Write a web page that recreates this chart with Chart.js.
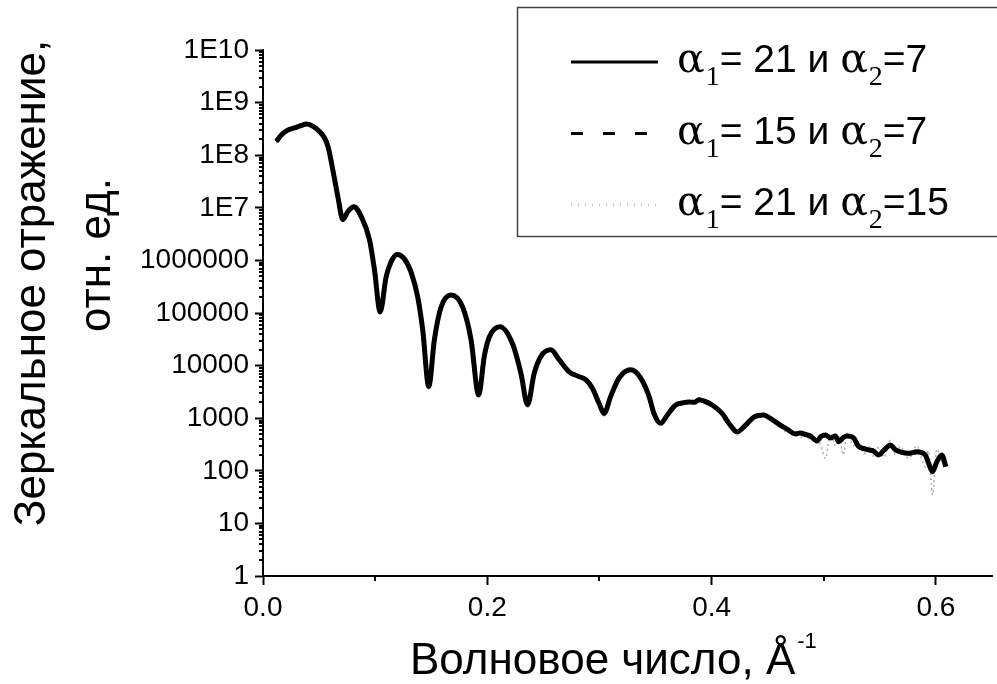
<!DOCTYPE html>
<html>
<head>
<meta charset="utf-8">
<style>
  html, body { margin: 0; padding: 0; background: #fff; }
  #wrap { width: 997px; height: 684px; }
</style>
<script src="https://cdn.jsdelivr.net/npm/chart.js@4.4.0/dist/chart.umd.min.js"></script>
</head>
<body>
<div id="wrap"><canvas id="grafico" width="997" height="684"></canvas></div>
<script>
// волновое число, 1/Å
const waveNumber = [
  0.012, 0.017, 0.022, 0.028, 0.033, 0.039, 0.045, 0.0505, 0.055, 0.058,
  0.0623, 0.0668, 0.0712, 0.0757, 0.081, 0.0876, 0.095, 0.0994, 0.1045, 0.1098,
  0.1143, 0.1196, 0.126, 0.132, 0.138, 0.1424, 0.1478, 0.1528, 0.1588, 0.1677,
  0.178, 0.1855, 0.1923, 0.1973, 0.2018, 0.2113, 0.2225, 0.230, 0.2359, 0.2418,
  0.2478, 0.2567, 0.264, 0.273, 0.281, 0.2878, 0.2937, 0.2997, 0.3041, 0.310,
  0.3175, 0.3279, 0.3368, 0.3442, 0.3486, 0.3546, 0.3605, 0.368, 0.374, 0.3798,
  0.3845, 0.3887, 0.394, 0.4005, 0.4094, 0.4154, 0.4228, 0.4303, 0.4377, 0.4466,
  0.452, 0.457, 0.462, 0.4673, 0.4748, 0.479, 0.4837, 0.488, 0.494, 0.4975,
  0.5015, 0.506, 0.5104, 0.5133, 0.5175, 0.5207, 0.5267, 0.5311, 0.536, 0.540,
  0.544, 0.5489, 0.554, 0.5593, 0.564, 0.5682, 0.5756, 0.583, 0.5905, 0.5934,
  0.597, 0.6008, 0.6053, 0.6088
];

// α1 = 21, α2 = 7
const refl21_7 = [
  1.86e8, 2.5e8, 3.0e8, 3.3e8, 3.6e8, 3.9e8, 3.5e8, 2.8e8, 2.1e8, 1.45e8,
  5.2e7, 1.6e7, 6.0e6, 8.5e6, 1.05e7, 6.8e6, 2.45e6, 6.6e5, 1.05e5, 4.9e5,
  9.5e5, 1.3e6, 1.07e6, 6.0e5, 2.0e5, 4.8e4, 4.0e3, 3.1e4, 1.3e5, 2.2e5,
  1.3e5, 3.1e4, 2.75e3, 1.5e4, 3.5e4, 5.5e4, 2.6e4, 7.1e3, 1.8e3, 7.1e3,
  1.5e4, 2.0e4, 1.3e4, 7.6e3, 6.3e3, 5.4e3, 3.7e3, 1.9e3, 1.23e3, 2.6e3,
  5.8e3, 8.3e3, 5.8e3, 2.6e3, 1.23e3, 800, 1150, 1780, 1950, 2040,
  2000, 2240, 2090, 1780, 1230, 800, 550, 740, 1050, 1150,
  1000, 850, 720, 620, 500, 525, 490, 460, 370, 450,
  480, 420, 460, 355, 430, 460, 420, 290, 265, 250,
  240, 200, 250, 310, 250, 230, 215, 230, 200, 140,
  96, 148, 200, 120
];

// α1 = 15, α2 = 7
const refl15_7 = [
  1.8e8, 2.5e8, 3.0e8, 3.3e8, 3.6e8, 3.9e8, 3.5e8, 2.8e8, 2.1e8, 1.45e8,
  5.2e7, 1.6e7, 6.0e6, 8.5e6, 1.05e7, 6.8e6, 2.45e6, 6.6e5, 1.05e5, 4.9e5,
  9.5e5, 1.3e6, 1.07e6, 6.0e5, 2.0e5, 4.8e4, 4.0e3, 3.1e4, 1.3e5, 2.2e5,
  1.3e5, 3.1e4, 2.75e3, 1.5e4, 3.5e4, 5.5e4, 2.6e4, 7.1e3, 1.8e3, 7.1e3,
  1.5e4, 2.0e4, 1.3e4, 7.6e3, 6.3e3, 5.4e3, 3.7e3, 1.9e3, 1.23e3, 2.6e3,
  5.8e3, 8.3e3, 5.8e3, 2.6e3, 1.23e3, 790, 1150, 1800, 1950, 2040,
  2000, 2240, 2100, 1780, 1230, 790, 540, 740, 1050, 1150,
  1000, 860, 720, 610, 500, 520, 490, 450, 370, 450,
  470, 420, 450, 360, 420, 460, 410, 290, 260, 250,
  235, 205, 250, 300, 250, 225, 215, 225, 200, 140,
  100, 150, 190, 120
];

// α1 = 21, α2 = 15
const refl21_15 = [
  1.7e8, 2.5e8, 3.0e8, 3.4e8, 3.6e8, 4.1e8, 3.5e8, 2.8e8, 2.1e8, 1.45e8,
  5.0e7, 1.6e7, 5.6e6, 8.5e6, 1.05e7, 6.8e6, 2.45e6, 6.6e5, 1.0e5, 4.9e5,
  9.5e5, 1.3e6, 1.07e6, 6.0e5, 2.0e5, 4.8e4, 3.6e3, 3.1e4, 1.3e5, 2.2e5,
  1.3e5, 3.1e4, 2.6e3, 1.5e4, 3.5e4, 5.6e4, 2.6e4, 7.1e3, 1.6e3, 7.1e3,
  1.5e4, 2.1e4, 1.3e4, 7.8e3, 6.6e3, 5.2e3, 3.9e3, 1.8e3, 1.1e3, 2.7e3,
  6.0e3, 9.0e3, 5.6e3, 2.7e3, 1.2e3, 760, 1200, 1900, 2100, 1900,
  2150, 2100, 2300, 1700, 1300, 760, 480, 800, 1000, 1250,
  900, 900, 650, 560, 560, 420, 560, 380, 400, 300,
  170, 520, 300, 480, 200, 520, 300, 350, 210, 300,
  190, 280, 180, 380, 200, 290, 170, 300, 120, 240,
  35, 260, 150, 170
];

const alpha1 = [21, 15, 21];
const alpha2 = [7, 7, 15];

const xMajorTicks = [0, 0.2, 0.4, 0.6];
const xMinorTicks = [0.1, 0.3, 0.5];
const yTickLabels = ["1", "10", "100", "1000", "10000", "100000", "1000000", "1E7", "1E8", "1E9", "1E10"];

const SANS = "'Liberation Sans', Arial, sans-serif";
const SERIF = "'Liberation Serif', 'Times New Roman', serif";
const GREEK = "'DejaVu Serif', 'Liberation Serif', serif";

function points(values) {
  return waveNumber.map((q, i) => ({ x: q, y: values[i] }));
}

// подписи осей, мелкие риски и легенда
const extras = {
  id: "extras",
  afterDraw(chart) {
    const { ctx, chartArea, scales } = chart;
    const x = scales.x, y = scales.y;
    ctx.save();

    // мелкие риски
    ctx.strokeStyle = "#000";
    ctx.lineWidth = 2;
    ctx.beginPath();
    xMinorTicks.forEach(v => {
      const px = Math.round(x.getPixelForValue(v));
      ctx.moveTo(px, chartArea.bottom);
      ctx.lineTo(px, chartArea.bottom + 5);
    });
    for (let d = 0; d < 10; d++) {
      for (let m = 2; m < 10; m++) {
        const py = Math.round(y.getPixelForValue(m * Math.pow(10, d)));
        ctx.moveTo(chartArea.left - 4, py);
        ctx.lineTo(chartArea.left, py);
      }
    }
    ctx.stroke();

    // подпись оси X
    ctx.fillStyle = "#000";
    ctx.textBaseline = "alphabetic";
    ctx.textAlign = "left";
    ctx.font = "44px " + SANS;
    const main = "Волновое число, Å";
    const w = ctx.measureText(main).width;
    ctx.fillText(main, 410, 674);
    ctx.font = "22px " + SANS;
    ctx.fillText("-1", 410 + w + 2, 648);

    // подпись оси Y
    ctx.font = "44px " + SANS;
    ctx.textAlign = "center";
    ctx.save();
    ctx.translate(45, 283);
    ctx.rotate(-Math.PI / 2);
    ctx.fillText("Зеркальное отражение,", 0, 0);
    ctx.restore();
    ctx.save();
    ctx.translate(110, 255);
    ctx.rotate(-Math.PI / 2);
    ctx.fillText("отн. ед.", 0, 0);
    ctx.restore();

    // легенда
    ctx.strokeStyle = "#444";
    ctx.lineWidth = 1.5;
    ctx.strokeRect(517.5, 7.5, 520, 229);
    chart.data.datasets.forEach((ds, i) => {
      const base = 72 + i * 71.5;
      ctx.save();
      ctx.strokeStyle = i === 2 ? "#c8c8c8" : ds.borderColor;
      ctx.lineWidth = 3;
      ctx.setLineDash(i === 0 ? [] : (i === 1 ? [12, 20] : [1, 6]));
      ctx.beginPath();
      ctx.moveTo(571, base - 10);
      ctx.lineTo(658, base - 10);
      ctx.stroke();
      ctx.restore();

      let cx = 677;
      ctx.textAlign = "left";
      ctx.fillStyle = "#000";
      ctx.font = "41px " + GREEK;
      ctx.fillText("α", cx, base);
      cx += ctx.measureText("α").width + 1;
      ctx.font = "28px " + SERIF;
      ctx.fillText("1", cx, base + 13);
      cx += ctx.measureText("1").width;
      ctx.font = "39px " + SANS;
      const t1 = "= " + alpha1[i] + " и ";
      ctx.fillText(t1, cx, base);
      cx += ctx.measureText(t1).width;
      ctx.font = "41px " + GREEK;
      ctx.fillText("α", cx, base);
      cx += ctx.measureText("α").width + 1;
      ctx.font = "28px " + SERIF;
      ctx.fillText("2", cx, base + 13);
      cx += ctx.measureText("2").width;
      ctx.font = "39px " + SANS;
      ctx.fillText("=" + alpha2[i], cx, base);
    });

    ctx.restore();
  }
};

new Chart(document.getElementById("grafico"), {
  type: "line",
  data: {
    datasets: [
      {
        label: "α1= 21 и α2=7",
        data: points(refl21_7),
        borderColor: "#000",
        borderWidth: 5,
        pointRadius: 0,
        cubicInterpolationMode: "monotone"
      },
      {
        label: "α1= 15 и α2=7",
        data: points(refl15_7),
        borderColor: "#000",
        borderWidth: 4,
        borderDash: [12, 20],
        pointRadius: 0,
        cubicInterpolationMode: "monotone"
      },
      {
        label: "α1= 21 и α2=15",
        data: points(refl21_15),
        borderColor: "#b0b0b0",
        borderWidth: 1.5,
        borderDash: [2, 3],
        pointRadius: 0,
        cubicInterpolationMode: "monotone"
      }
    ]
  },
  options: {
    responsive: false,
    animation: false,
    devicePixelRatio: 1,
    layout: { padding: { top: 50, right: 5, left: 0, bottom: 0 } },
    plugins: {
      legend: { display: false },
      tooltip: { enabled: false }
    },
    scales: {
      x: {
        type: "linear",
        min: 0,
        max: 0.65,
        afterFit: s => { s.height = 108; },
        afterBuildTicks: s => { s.ticks = xMajorTicks.map(v => ({ value: v })); },
        ticks: {
          autoSkip: false,
          maxRotation: 0,
          padding: 6,
          color: "#000",
          font: { family: SANS, size: 28 },
          callback: v => v.toFixed(1)
        },
        grid: { drawOnChartArea: false, drawTicks: true, tickLength: 9, tickWidth: 2, tickColor: "#000" },
        border: { display: true, color: "#000", width: 2 }
      },
      y: {
        type: "logarithmic",
        min: 1,
        max: 1e10,
        afterFit: s => { s.width = 263; },
        afterBuildTicks: s => { s.ticks = yTickLabels.map((t, i) => ({ value: Math.pow(10, i) })); },
        ticks: {
          autoSkip: false,
          padding: 6,
          color: "#000",
          font: { family: SANS, size: 28 },
          callback: v => yTickLabels[Math.round(Math.log10(v))]
        },
        grid: { drawOnChartArea: false, drawTicks: true, tickLength: 8, tickWidth: 2, tickColor: "#000" },
        border: { display: true, color: "#000", width: 2 }
      }
    }
  },
  plugins: [extras]
});
</script>
</body>
</html>
